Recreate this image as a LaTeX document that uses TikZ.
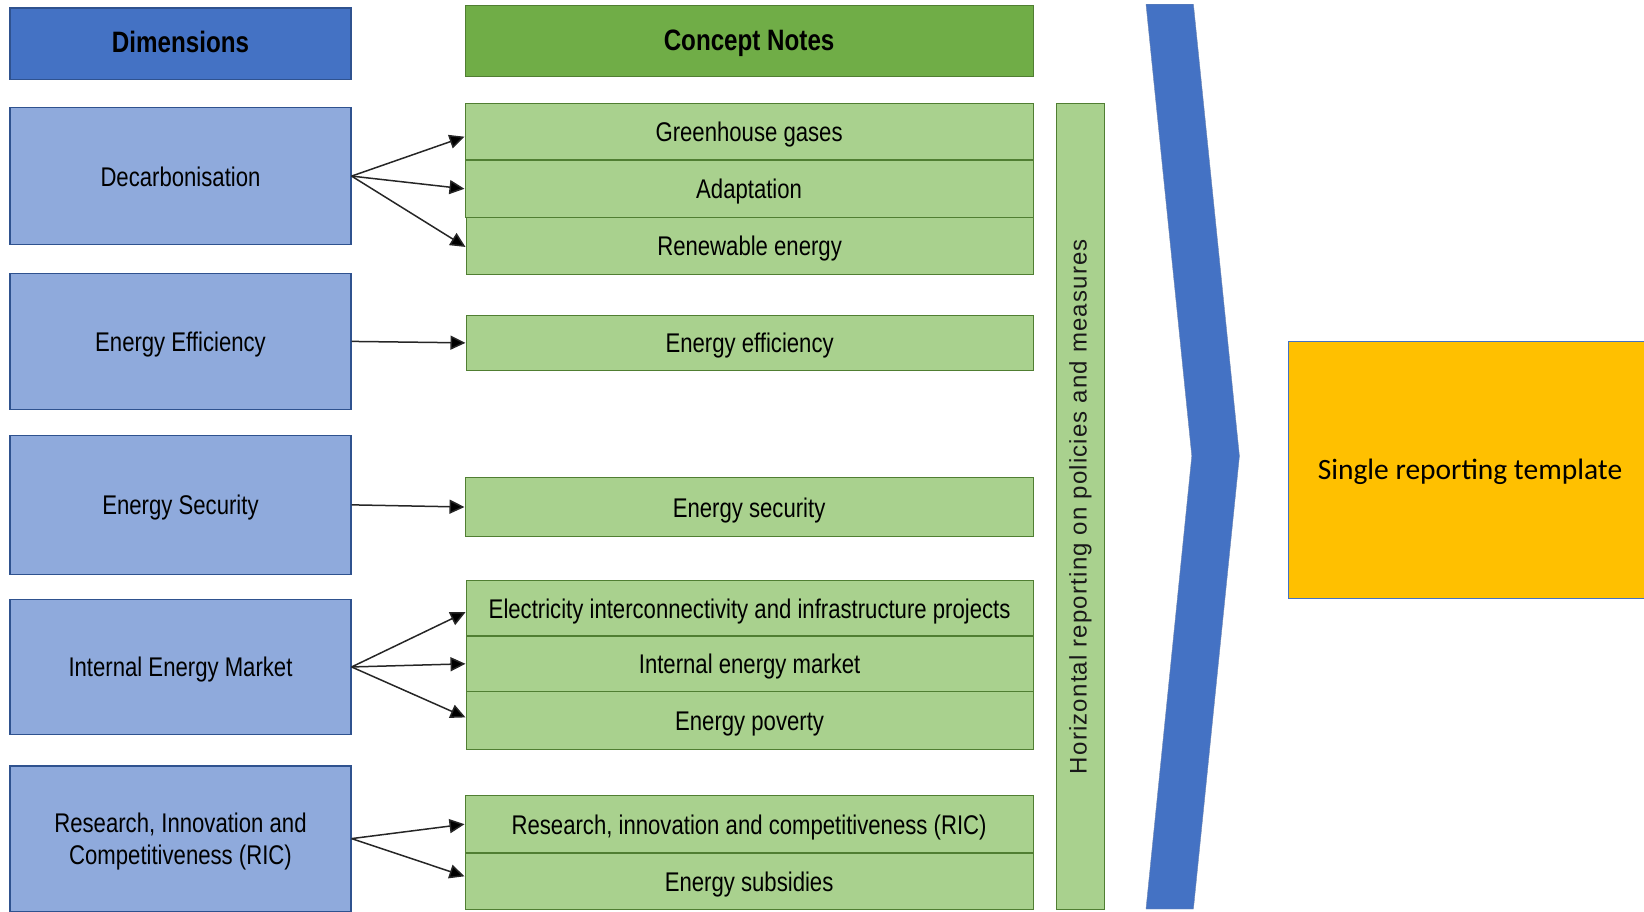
\documentclass[tikz,border=0pt]{standalone}
\usepackage{fontspec}
\usetikzlibrary{arrows.meta}
\newfontfamily\narrowfont[FakeStretch=0.82]{Liberation Sans}
\newfontfamily\vertfont[LetterSpace=5]{Liberation Sans}
\newfontfamily\calfont{Carlito}
\definecolor{hdrblue}{HTML}{4472C4}
\definecolor{dkblue}{HTML}{2F528F}
\definecolor{ltblue}{HTML}{8FAADC}
\definecolor{hdrgreen}{HTML}{70AD47}
\definecolor{dkgreen}{HTML}{507E32}
\definecolor{ltgreen}{HTML}{A9D18E}
\definecolor{gold}{HTML}{FFC000}
\tikzset{
  basebox/.style={rectangle, anchor=north west, inner sep=0pt, line width=1.2pt, text=black},
  oneline/.style={text height=20pt, text depth=0pt},
  dimhead/.style={basebox, draw=dkblue, fill=hdrblue, minimum width=341pt, text height=17pt, text depth=0pt, font=\narrowfont\bfseries\fontsize{29.5}{34}\selectfont},
  cnhead/.style={basebox, draw=dkgreen, fill=hdrgreen, minimum width=568pt, text height=19pt, text depth=0pt, font=\narrowfont\bfseries\fontsize{29.5}{34}\selectfont},
  dimbox/.style={basebox, draw=dkblue, fill=ltblue, minimum width=341pt, align=center, font=\narrowfont\fontsize{27}{31.5}\selectfont},
  cnbox/.style={basebox, oneline, draw=dkgreen, fill=ltgreen, minimum width=568pt, font=\narrowfont\fontsize{27}{31.5}\selectfont},
  link/.style={line width=1.5pt, draw=black!85, -{Triangle[length=15pt,width=14pt,fill=black]}}
}
\begin{document}
\begin{tikzpicture}[x=1pt,y=-1pt]
\useasboundingbox (0,0) rectangle (1644,911);
% headers
\node[dimhead, minimum height=71.3pt] (dimh) at (9.4,7.3) {Dimensions};
\node[cnhead, minimum height=70.3pt] (cnh) at (464.5,5.2) {Concept Notes};
% dimension boxes
\node[dimbox, oneline, minimum height=137pt] (d1) at (9.4,107) {Decarbonisation};
\node[dimbox, oneline, minimum height=136.4pt] (d2) at (9.4,272.6) {Energy Efficiency};
\node[dimbox, oneline, minimum height=138.5pt] (d3) at (9.4,435) {Energy Security};
\node[dimbox, oneline, minimum height=135.3pt] (d4) at (9.4,598.7) {Internal Energy Market};
\node[dimbox, text depth=-2.5pt, minimum height=145.2pt] (d5) at (9.4,765.4) {Research, Innovation and\\Competitiveness (RIC)};
% concept notes
\node[cnbox, minimum height=56.6pt] (c1) at (464.5,102.8) {Greenhouse gases};
\node[cnbox, minimum height=57.6pt] (c2) at (464.5,159.4) {Adaptation};
\node[cnbox, minimum height=56.7pt, minimum width=567pt] (c3) at (465.5,217) {Renewable energy};
\node[cnbox, minimum height=55.5pt, minimum width=567pt] (c4) at (465.5,314.5) {Energy efficiency};
\node[cnbox, minimum height=58.8pt] (c5) at (464.5,477) {Energy security};
\node[cnbox, minimum height=55.6pt, minimum width=567pt] (c6) at (465.5,579.8) {Electricity interconnectivity and infrastructure projects};
\node[cnbox, minimum height=55.6pt, minimum width=567pt] (c7) at (465.5,635.4) {Internal energy market};
\node[cnbox, minimum height=57.6pt, minimum width=567pt] (c8) at (465.5,691) {Energy poverty};
\node[cnbox, minimum height=57.6pt] (c9) at (464.5,794.8) {Research, innovation and competitiveness (RIC)};
\node[cnbox, minimum height=56.6pt] (c10) at (464.5,852.4) {Energy subsidies};
% vertical bar
\node[basebox, draw=dkgreen, fill=ltgreen, minimum width=48.2pt, minimum height=806.2pt] (bar) at (1055.8,102.8) {};
\node[rotate=90, font=\vertfont\fontsize{24}{28}\selectfont, text=black!90] (bartext) at (bar.center) {Horizontal reporting on policies and measures};
% chevron
\filldraw[fill=hdrblue, draw=dkblue!70, line width=0.4pt] (1146,4.2) -- (1193.4,4.2) -- (1239.4,456) -- (1193.4,909) -- (1146,909) -- (1191.8,456) -- cycle;
% yellow box
\node[basebox, draw=hdrblue, fill=gold, line width=1pt, minimum width=370pt, minimum height=256.8pt] (srt) at (1287.5,340.8) {};
\node[font=\calfont\fontsize{29.5}{34}\selectfont, text=black, text height=20pt, text depth=0pt] (srttext) at (1470,469.2) {Single reporting template};
% connectors
\draw[link] (d1.east) -- ([yshift=-5pt]c1.west);
\draw[link] (d1.east) -- (c2.west);
\draw[link] (d1.east) -- ([yshift=-1pt]c3.west);
\draw[link] (d2.east) -- (c4.west);
\draw[link] (d3.east) -- (c5.west);
\draw[link] (d4.east) -- ([yshift=-4pt]c6.west);
\draw[link] (d4.east) -- (c7.west);
\draw[link] (d4.east) -- ([yshift=3pt]c8.west);
\draw[link] (d5.east) -- (c9.west);
\draw[link] (d5.east) -- ([yshift=5pt]c10.west);
\end{tikzpicture}
\end{document}
